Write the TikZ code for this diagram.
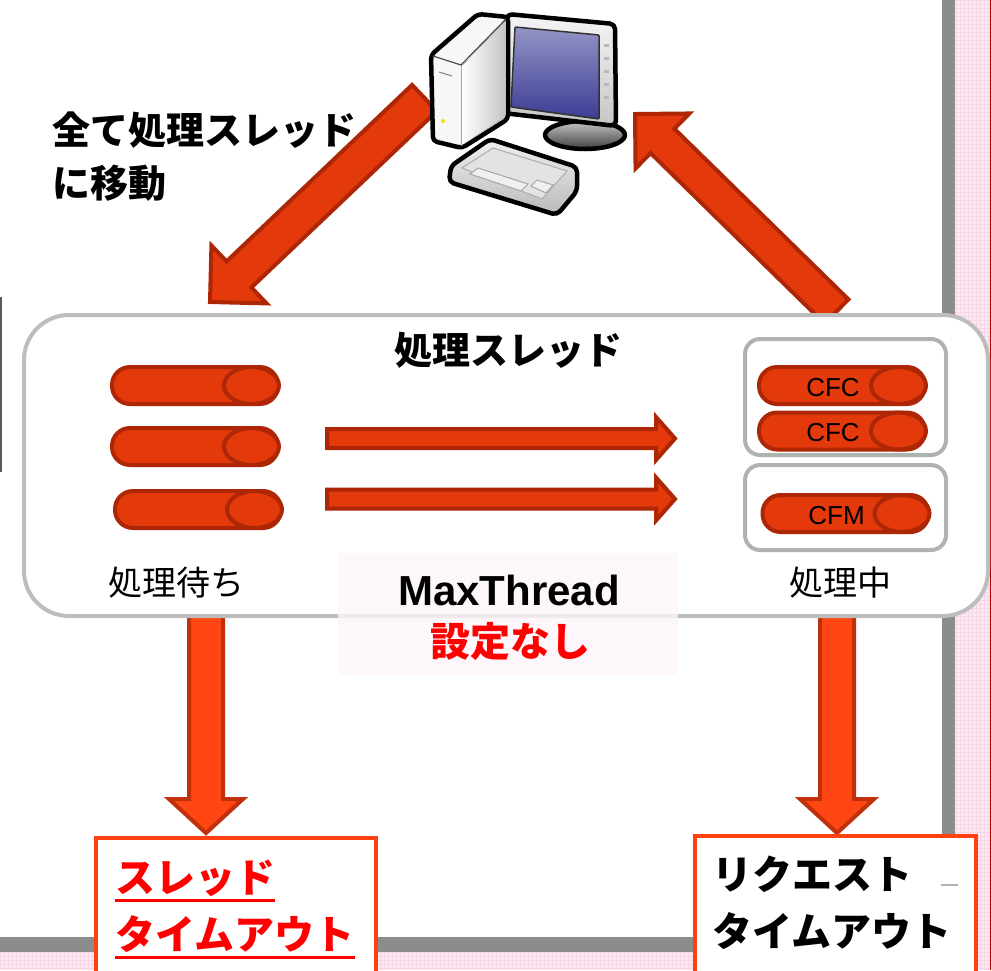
\documentclass[tikz,border=0pt]{standalone}
\usepackage{fontspec}
\setmainfont{Liberation Sans}
\newfontfamily\jpfont{Noto Sans CJK JP}
\usetikzlibrary{calc}

\definecolor{arrowfill}{HTML}{E3390B}
\definecolor{arrowedge}{HTML}{AD2606}
\definecolor{dropfill}{HTML}{FF4613}
\definecolor{dropedge}{HTML}{C0300A}
\definecolor{poolgray}{HTML}{BDBDBD}
\definecolor{slotgray}{HTML}{AEB3B0}
\definecolor{timeoutedge}{HTML}{FF4010}
\definecolor{alertred}{HTML}{FF0000}
\definecolor{backpink}{HTML}{FCEAF3}
\definecolor{gridpink}{HTML}{F6D6E6}
\definecolor{shadowgray}{HTML}{8C8C8C}
\definecolor{notepink}{HTML}{FDF6FB}
\definecolor{screenblue}{HTML}{3C3C96}

% block arrow from tail #2 to tip #3:
% #4 half shaft width, #5 half head width, #6 head length
\newcommand\drawblockarrow[6]{%
  \coordinate (ba-base) at ($(#3)!#6!(#2)$);
  \draw[#1] ($(#2)!#4!90:(#3)$) -- ($(ba-base)!#4!90:(#3)$)
    -- ($(ba-base)!#5!90:(#3)$) -- (#3)
    -- ($(ba-base)!#5!-90:(#3)$) -- ($(ba-base)!#4!-90:(#3)$)
    -- ($(#2)!#4!-90:(#3)$) -- cycle;}

\begin{document}
\begin{tikzpicture}[x=1pt,y=-1pt,
  bigarrow/.style={fill=arrowfill, draw=arrowedge, line width=4pt, line join=miter},
  droparrow/.style={fill=dropfill, draw=dropedge, line width=4pt, line join=miter},
  poolbox/.style={draw=poolgray, fill=white, line width=4pt, rounded corners=45pt, inner sep=0pt},
  slotbox/.style={draw=slotgray, fill=white, line width=4pt, rounded corners=15pt, inner sep=0pt},
  pill/.style={draw=arrowedge, fill=arrowfill, line width=4pt, rounded corners=18pt,
    minimum width=166pt, minimum height=37pt, inner sep=0pt},
  pillcap/.style={draw=arrowedge, fill=arrowfill, line width=4pt},
  pilllabel/.style={font=\fontsize{26}{28}\selectfont, inner sep=0pt},
  timeoutbox/.style={draw=timeoutedge, fill=white, line width=4pt, inner sep=0pt},
  notebox/.style={fill=notepink, fill opacity=0.8, inner sep=0pt},
  headline/.style={font=\jpfont\bfseries\fontsize{38}{53}\selectfont, inner sep=0pt},
  caption/.style={font=\jpfont\fontsize{34}{40}\selectfont, inner sep=0pt},
  timeouttext/.style={font=\jpfont\bfseries\fontsize{40}{48}\selectfont, inner sep=0pt, anchor=base west},
  pcline/.style={draw=black, line width=4.5pt, line join=round},
]
\useasboundingbox (0,0) rectangle (992,970);

% slide backdrop with its shadow
\fill[backpink] (0,0) rectangle (992,970);
\draw[gridpink, line width=0.4pt, step=4pt] (955,0) grid (992,970);
\draw[gridpink, line width=0.4pt, step=4pt] (0,952) grid (955,970);
\fill[shadowgray] (942,0) rectangle (955,952);
\fill[shadowgray] (0,937) rectangle (955,952);
\fill[white] (0,0) rectangle (942,937);
\draw[red!70!black, line width=1pt] (990.5,0) -- (990.5,970);
\draw[black!65, line width=2pt] (1,297) -- (1,472);

% arrow end points
\coordinate (pcout) at (424.5,98);
\coordinate (poolin) at (210,302);
\coordinate (poolout) at (836.5,311.5);
\coordinate (pcin) at (635,114);
\coordinate (waitdrop) at (206,600);
\coordinate (waittip) at (206,833);
\coordinate (rundrop) at (837,600);
\coordinate (runtip) at (837,833);
\coordinate (moveAtail) at (327,438.5);
\coordinate (moveAtip) at (675,438.5);
\coordinate (moveBtail) at (327,499);
\coordinate (moveBtip) at (675,499);

% large arrows around the thread pool
\drawblockarrow{bigarrow}{pcout}{poolin}{18pt}{40pt}{40pt}
\drawblockarrow{bigarrow}{poolout}{pcin}{17pt}{38.5pt}{38.5pt}
\drawblockarrow{droparrow}{waitdrop}{waittip}{17pt}{37pt}{34pt}
\drawblockarrow{droparrow}{rundrop}{runtip}{17pt}{37pt}{34pt}

% thread pool
\node[poolbox, minimum width=964pt, minimum height=301pt] (pool) at (506,465.5) {};
\node[headline] (pooltitle) at (508,350) {処理スレッド};

% desktop computer
\draw[pcline, top color=gray!45, bottom color=black!75] (585,135) ellipse [x radius=40pt, y radius=14pt];
\draw[pcline, top color=gray!8, bottom color=gray!45, rounded corners=5pt]
  (507,14) -- (615,24) -- (616,126) -- (503,113) -- cycle;
\draw[black!80, line width=1.5pt, top color=screenblue!55, bottom color=screenblue, rounded corners=1pt]
  (515,27) -- (599,35) -- (599,119) -- (511,107) -- cycle;
\foreach \yy in {44,57,70,83,96}
  \fill[gray!55] (604,\yy) rectangle (609,\yy+3);
\draw[pcline, fill=gray!6, rounded corners=4pt]
  (431,55) -- (478,14) -- (508,17) -- (508,119) -- (462,148) -- (433,141) -- cycle;
\fill[left color=white, right color=gray!45] (462,66) -- (505,21) -- (505,117) -- (462,145) -- cycle;
\draw[black!70, line width=1.2pt] (433,56) -- (461,65) -- (506,19);
\draw[gray!70, line width=1pt] (461,65) -- (461,146);
\draw[gray, line width=1pt] (439,72) -- (452,76);
\fill[yellow!80!orange] (443,121) circle (2pt);
\draw[pcline, top color=gray!12, bottom color=gray!55, rounded corners=5pt]
  (451,166) -- (490,139) -- (577,167) -- (577,191) -- (557,215) -- (449,182) -- cycle;
\draw[gray!65, line width=1pt, fill=gray!22]
  (462,168) -- (493,148) -- (567,171) -- (542,199) -- cycle;
\draw[gray!70, line width=1pt, fill=gray!12]
  (470,174) -- (478,168) -- (528,184) -- (521,191) -- cycle;
\draw[gray!70, line width=1pt, fill=gray!12]
  (531,186) -- (537,180) -- (553,185) -- (546,193) -- cycle;

\node[headline, align=left, anchor=west] (movenote) at (52,156.5) {全て処理スレッド\\に移動};

% waiting threads
\node[pill] (wait1) at (195,385.5) {};
\draw[pillcap] ([xshift=-28.5pt]wait1.east) ellipse [x radius=27.5pt, y radius=18.5pt];
\node[pill] (wait2) at (195,446.5) {};
\draw[pillcap] ([xshift=-28.5pt]wait2.east) ellipse [x radius=27.5pt, y radius=18.5pt];
\node[pill] (wait3) at (198,509.5) {};
\draw[pillcap] ([xshift=-28.5pt]wait3.east) ellipse [x radius=27.5pt, y radius=18.5pt];
\node[caption] (waitlabel) at (176,583) {処理待ち};

% threads being handed over
\drawblockarrow{bigarrow}{moveAtail}{moveAtip}{9.5pt}{21.5pt}{19pt}
\drawblockarrow{bigarrow}{moveBtail}{moveBtip}{9.5pt}{21.5pt}{19pt}

% running threads
\node[slotbox, minimum width=201pt, minimum height=116pt] (slotA) at (845.5,397) {};
\node[slotbox, minimum width=201pt, minimum height=85pt] (slotB) at (845.5,507.5) {};
\node[pill] (run1) at (842,385.5) {};
\draw[pillcap] ([xshift=-28.5pt]run1.east) ellipse [x radius=27.5pt, y radius=18.5pt];
\node[pilllabel] (run1text) at ([xshift=-9pt,yshift=-2pt]run1.center) {CFC};
\node[pill] (run2) at (842,431) {};
\draw[pillcap] ([xshift=-28.5pt]run2.east) ellipse [x radius=27.5pt, y radius=18.5pt];
\node[pilllabel] (run2text) at ([xshift=-9pt,yshift=-2pt]run2.center) {CFC};
\node[pill] (run3) at (845.5,513.5) {};
\draw[pillcap] ([xshift=-28.5pt]run3.east) ellipse [x radius=27.5pt, y radius=18.5pt];
\node[pilllabel] (run3text) at ([xshift=-9pt,yshift=-2pt]run3.center) {CFM};
\node[caption] (runlabel) at (840,583) {処理中};

% MaxThread setting
\node[notebox, minimum width=340pt, minimum height=122pt] (note) at (508,614) {};
\node[font=\bfseries\fontsize{42}{46}\selectfont, inner sep=0pt] (maxthread) at (509,590) {MaxThread};
\node[font=\jpfont\bfseries\fontsize{40}{46}\selectfont, text=alertred, inner sep=0pt] (unset) at (510,641) {設定なし};

% timeouts
\node[timeoutbox, minimum width=280pt, minimum height=137pt] (threadto) at (236,906.5) {};
\node[timeouttext, text=alertred] (threadto1) at (115,892) {スレッド};
\node[timeouttext, text=alertred] (threadto2) at (115,949) {タイムアウト};
\draw[alertred, line width=3pt] ([yshift=-8pt]threadto1.base west) -- ([yshift=-8pt]threadto1.base east);
\draw[alertred, line width=3pt] ([yshift=-8pt]threadto2.base west) -- ([yshift=-8pt]threadto2.base east);

\node[timeoutbox, minimum width=281pt, minimum height=139pt] (requestto) at (835.5,905.5) {};
\node[timeouttext] (requestto1) at (712,889) {リクエスト};
\node[timeouttext] (requestto2) at (712,946) {タイムアウト};
\draw[gray!60, line width=1.5pt] (941,885) -- (958,885);
\end{tikzpicture}
\end{document}
